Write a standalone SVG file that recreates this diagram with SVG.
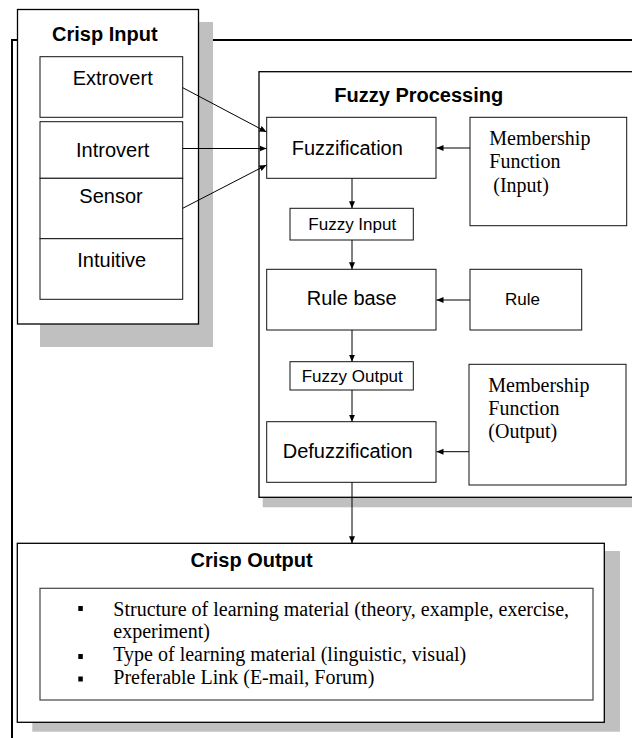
<svg xmlns="http://www.w3.org/2000/svg" width="632" height="738" viewBox="0 0 632 738">
  <style>
    .bg { fill: #ffffff; }
    .shadow { fill: #c0c0c0; stroke: none; }
    .frame { fill: none; stroke: #000; stroke-width: 2; }
    .panel { fill: #fff; stroke: #000; stroke-width: 1.3; }
    .box { fill: #fff; stroke: #111; stroke-width: 1; }
    .list { fill: #fff; stroke: #444; stroke-width: 1.2; }
    .head { font-family: "Liberation Sans", Arial, sans-serif; font-weight: bold; font-size: 20px; fill: #000; }
    .lbl { font-family: "Liberation Sans", Arial, sans-serif; font-size: 20px; fill: #000; }
    .sm { font-family: "Liberation Sans", Arial, sans-serif; font-size: 17px; fill: #000; }
    .serif { font-family: "Liberation Serif", "Times New Roman", serif; font-size: 20px; fill: #000; }
    .conn { fill: none; stroke: #000; stroke-width: 1; marker-end: url(#arrow); }
  </style>
  <defs>
    <marker id="arrow" markerUnits="userSpaceOnUse" markerWidth="8" markerHeight="8" refX="7" refY="4" orient="auto">
      <path d="M0,1 L7,4 L0,7 Z" fill="#000"/>
    </marker>
  </defs>

  <rect class="bg" x="0" y="0" width="632" height="738"/>

  <!-- outer frame, running off the right and bottom edges -->
  <rect class="frame" x="12" y="40" width="700" height="760"/>

  <!-- Crisp Input -->
  <g id="crisp-input">
    <rect class="shadow" x="40" y="22" width="173" height="325"/>
    <rect class="panel" x="17.5" y="9.5" width="181" height="314.5"/>
    <text class="head" x="52" y="40.5">Crisp Input</text>
  </g>
  <g id="extrovert">
    <rect class="box" x="40" y="56.7" width="142.7" height="60.6"/>
    <text class="lbl" x="72.7" y="85">Extrovert</text>
  </g>
  <g id="introvert">
    <rect class="box" x="40" y="121.7" width="142.7" height="56.6"/>
    <text class="lbl" x="76" y="156.7">Introvert</text>
  </g>
  <g id="sensor">
    <rect class="box" x="40" y="178.3" width="142.7" height="60.4"/>
    <text class="lbl" x="79.3" y="203.3">Sensor</text>
  </g>
  <g id="intuitive">
    <rect class="box" x="40" y="238.7" width="142.7" height="60.6"/>
    <text class="lbl" x="77.3" y="266.7">Intuitive</text>
  </g>

  <!-- Fuzzy Processing -->
  <g id="fuzzy-processing">
    <rect class="shadow" x="262.7" y="497" width="400" height="10.3"/>
    <rect class="panel" x="259" y="71.7" width="400" height="425.6"/>
    <text class="head" x="334.3" y="101.7">Fuzzy Processing</text>
  </g>
  <g id="fuzzification">
    <rect class="box" x="266.7" y="117.3" width="169.3" height="61"/>
    <text class="lbl" x="291.7" y="155">Fuzzification</text>
  </g>
  <g id="membership-input">
    <rect class="box" x="470" y="117.3" width="156.7" height="108.4"/>
    <text class="serif" x="489.3" y="145">Membership</text>
    <text class="serif" x="489.3" y="168.3">Function</text>
    <text class="serif" x="493.3" y="191.7">(Input)</text>
  </g>
  <g id="fuzzy-input">
    <rect class="box" x="290" y="208.3" width="123.3" height="31.7"/>
    <text class="sm" x="308.3" y="230">Fuzzy Input</text>
  </g>
  <g id="rule-base">
    <rect class="box" x="266.7" y="269.3" width="169.3" height="60.7"/>
    <text class="lbl" x="306.7" y="305">Rule base</text>
  </g>
  <g id="rule">
    <rect class="box" x="470" y="269.3" width="111.7" height="60.7"/>
    <text class="sm" x="505" y="305">Rule</text>
  </g>
  <g id="fuzzy-output">
    <rect class="box" x="290" y="361.7" width="123.3" height="28.3"/>
    <text class="sm" x="301.7" y="382">Fuzzy Output</text>
  </g>
  <g id="membership-output">
    <rect class="box" x="469" y="364.3" width="157" height="120.7"/>
    <text class="serif" x="488.3" y="391.7">Membership</text>
    <text class="serif" x="488.3" y="415">Function</text>
    <text class="serif" x="488.3" y="438.3">(Output)</text>
  </g>
  <g id="defuzzification">
    <rect class="box" x="266.7" y="421.7" width="169.3" height="60.6"/>
    <text class="lbl" x="282.7" y="458.3">Defuzzification</text>
  </g>

  <!-- Crisp Output -->
  <g id="crisp-output">
    <rect class="shadow" x="32.3" y="551" width="587.7" height="180.7"/>
    <rect class="panel" x="17.3" y="543.3" width="587" height="179"/>
    <text class="head" x="190.5" y="566.5">Crisp Output</text>
    <rect class="list" x="40" y="588.3" width="553" height="111.7"/>
    <rect x="78.3" y="606" width="4.5" height="5" fill="#000"/>
    <rect x="78.3" y="654" width="4.5" height="5" fill="#000"/>
    <rect x="78.3" y="676.5" width="4.5" height="5" fill="#000"/>
    <text class="serif" x="113.3" y="615.5">Structure of learning material (theory, example, exercise,</text>
    <text class="serif" x="113.3" y="638">experiment)</text>
    <text class="serif" x="113.3" y="661">Type of learning material (linguistic, visual)</text>
    <text class="serif" x="113.3" y="684">Preferable Link (E-mail, Forum)</text>
  </g>

  <!-- connectors -->
  <g id="connectors">
    <line class="conn" x1="182.7" y1="87.7" x2="266.5" y2="132"/>
    <line class="conn" x1="182.7" y1="148.5" x2="266.5" y2="148.5"/>
    <line class="conn" x1="182.7" y1="208.3" x2="266.5" y2="165"/>
    <line class="conn" x1="470" y1="148" x2="436.5" y2="148"/>
    <line class="conn" x1="352" y1="178.3" x2="352" y2="208.3"/>
    <line class="conn" x1="352" y1="240" x2="352" y2="269.3"/>
    <line class="conn" x1="470" y1="300" x2="436.5" y2="300"/>
    <line class="conn" x1="352" y1="330" x2="352" y2="361.7"/>
    <line class="conn" x1="352" y1="390" x2="352" y2="421.7"/>
    <line class="conn" x1="469" y1="451.7" x2="436.5" y2="451.7"/>
    <line class="conn" x1="352" y1="482.3" x2="352" y2="543.3"/>
  </g>
</svg>
